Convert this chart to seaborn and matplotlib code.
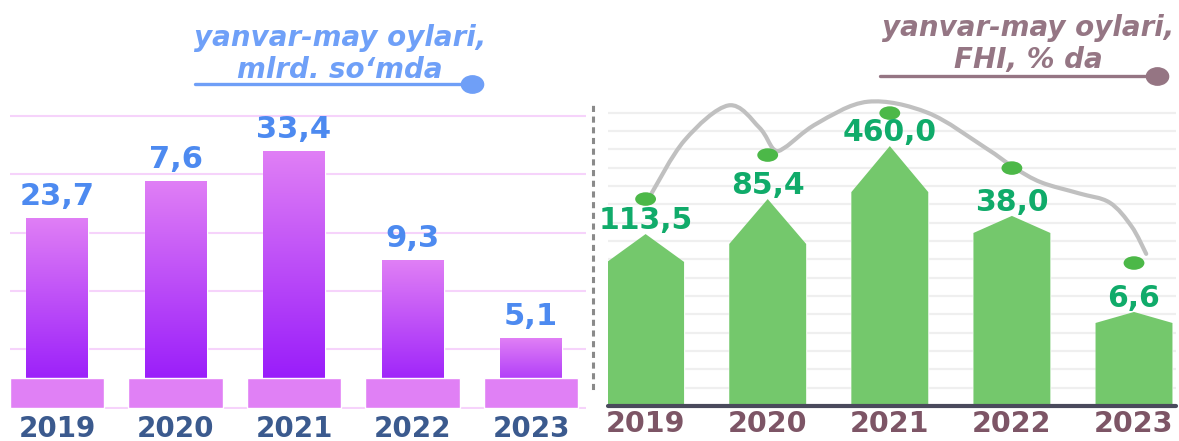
import numpy as np
import pandas as pd
import seaborn as sns
import matplotlib.pyplot as plt
from matplotlib.colors import LinearSegmentedColormap
from matplotlib.path import Path
from matplotlib.patches import PathPatch
from matplotlib.lines import Line2D
from matplotlib.markers import MarkerStyle
from matplotlib.transforms import Affine2D

years = ['2019', '2020', '2021', '2022', '2023']

# chap panel (mlrd. so'm) - bar heights as drawn, in grid units
left_labels = ['23,7', '7,6', '33,4', '9,3', '5,1']
left_bar_h = [3.26, 3.89, 4.40, 2.53, 1.19]

# o'ng panel (FHI, %) - house shaped bars + dots on the grey curve
right_labels = ['113,5', '85,4', '460,0', '38,0', '6,6']
right_body_h = [7.86, 8.84, 11.67, 9.44, 4.53]
right_peak_h = [9.38, 11.29, 14.18, 10.37, 5.13]
right_dot_h = [11.29, 13.69, 15.98, 12.98, 7.80]

# grey curve (x in category units)
curve_x = [0.04, 0.32, 0.68, 0.93, 1.05, 1.14, 1.40, 1.82, 2.31, 2.78, 3.02, 3.24, 3.55, 3.80, 3.98, 4.10]
curve_y = [11.5, 14.5, 16.4, 15.2, 14.0, 14.1, 15.4, 16.6, 16.0, 14.1, 13.0, 12.2, 11.6, 11.1, 9.8, 8.3]

W, H = 1179, 441


def frac(x0, y_top, x1, y_bot):
    # pixel box -> figure rect
    return [x0 / W, 1 - y_bot / H, (x1 - x0) / W, (y_bot - y_top) / H]


def smooth_path(xs, ys):
    pts = np.column_stack([xs, ys])
    pts = np.vstack([pts[0], pts, pts[-1]])
    verts = [pts[1]]
    codes = [Path.MOVETO]
    for i in range(1, len(pts) - 2):
        c1 = pts[i] + (pts[i + 1] - pts[i - 1]) / 6
        c2 = pts[i + 1] - (pts[i + 2] - pts[i]) / 6
        verts += [c1, c2, pts[i + 1]]
        codes += [Path.CURVE4] * 3
    return Path(verts, codes)


sns.set_style('white')
fig = plt.figure(figsize=(W / 100, H / 100), dpi=100)

# ---------------- left panel ----------------
ax1 = fig.add_axes(frac(10, 100, 586, 409))
df_left = pd.DataFrame({'year': years, 'h': left_bar_h, 'base': [0.51] * 5})

sns.barplot(data=df_left, x='year', y='h', width=0.523, color='#9010fb',
            saturation=1, errorbar=None, ax=ax1)
purple = LinearSegmentedColormap.from_list('purp', ['#9010fb', '#e07ff5'])
grad = np.linspace(0, 1, 256).reshape(-1, 1)
for p in list(ax1.patches):
    x0, w, h = p.get_x(), p.get_width(), p.get_height()
    im = ax1.imshow(grad, extent=[x0, x0 + w, 0, h], origin='lower',
                    aspect='auto', cmap=purple, zorder=1.5)
    im.set_clip_path(p)

n_before = len(ax1.patches)
sns.barplot(data=df_left, x='year', y='base', width=0.8, color='#e080f5',
            saturation=1, errorbar=None, ax=ax1)
for p in ax1.patches[n_before:]:
    p.set_zorder(2)

for i, (h, lab) in enumerate(zip(left_bar_h, left_labels)):
    ax1.annotate(lab, (i, h), xytext=(0, 13), textcoords='offset pixels',
                 ha='center', va='baseline', fontsize=22, fontweight='bold',
                 color='#4d8af0')

ax1.set_xlim(-0.397, 4.464)
ax1.set_ylim(-0.02, 309 / 58.6)
ax1.set_yticks(range(6))
ax1.yaxis.grid(True, color='#f6d3fb', lw=1.5)
ax1.xaxis.grid(False)
ax1.set_axisbelow(True)
ax1.tick_params(axis='y', length=0, labelleft=False)
ax1.tick_params(axis='x', length=0, pad=4)
ax1.set_xticks(range(5))
ax1.set_xticklabels(years, fontsize=20, fontweight='bold', color='#3b5a8e')
ax1.set_xlabel('')
ax1.set_ylabel('')
for s in ax1.spines.values():
    s.set_visible(False)

# ---------------- right panel ----------------
ax2 = fig.add_axes(frac(608, 95, 1176, 406))
df_right = pd.DataFrame({'year': years, 'body': right_body_h,
                         'peak': right_peak_h, 'pos': np.arange(5),
                         'dot': right_dot_h})
sns.barplot(data=df_right, x='year', y='body', width=0.63, color='#74c86c',
            saturation=1, errorbar=None, ax=ax2)
for p, body, peak in zip(ax2.patches, right_body_h, right_peak_h):
    x0, w = p.get_x(), p.get_width()
    ax2.fill([x0, x0, x0 + w / 2, x0 + w, x0 + w], [0, body, peak, body, 0],
             color='#74c86c', lw=0, zorder=2)

ax2.add_patch(PathPatch(smooth_path(curve_x, curve_y), fill=False,
                        edgecolor='#c0c0c0', lw=3, capstyle='round', zorder=3))

oval = Path.unit_circle().transformed(Affine2D().scale(1, 0.65))
sns.scatterplot(data=df_right, x='pos', y='dot', marker=MarkerStyle(oval),
                s=225, color='#4cb848', edgecolor='none', zorder=4, ax=ax2,
                legend=False)

for i, (pk, lab) in enumerate(zip(right_peak_h, right_labels)):
    ax2.annotate(lab, (i, pk), xytext=(0, 5), textcoords='offset pixels',
                 ha='center', va='baseline', fontsize=21.5, fontweight='bold',
                 color='#10ab6a', zorder=5)

ax2.set_xlim(-0.308, 4.344)
ax2.set_ylim(0, 311 / 18.33)
ax2.set_yticks(range(1, 17))
ax2.yaxis.grid(True, color='#efefef', lw=1.6)
ax2.xaxis.grid(False)
ax2.set_axisbelow(True)
ax2.tick_params(axis='y', length=0, labelleft=False)
ax2.tick_params(axis='x', length=0, pad=3)
ax2.set_xticks(range(5))
ax2.set_xticklabels(years, fontsize=20.5, fontweight='bold', color='#7d5566')
ax2.set_xlabel('')
ax2.set_ylabel('')
ax2.spines['top'].set_visible(False)
ax2.spines['right'].set_visible(False)
ax2.spines['bottom'].set_color('#4a4a5c')
ax2.spines['bottom'].set_linewidth(3)
ax2.spines['bottom'].set_capstyle('round')
ax2.spines['left'].set_position(('outward', 10.5))
ax2.spines['left'].set_bounds(0.98, 16.6)
ax2.spines['left'].set_color('#8a8a8a')
ax2.spines['left'].set_linewidth(2.2)
ax2.spines['left'].set_linestyle((0, (1, 2.5)))

# ---------------- titles ----------------
fig.text(340 / W, 1 - 78 / H, 'yanvar-may oylari,\nmlrd. so‘mda', ha='center',
         va='baseline', fontsize=20, fontweight='bold', fontstyle='italic',
         color='#6fa0f8', linespacing=1.2)
fig.text(1028 / W, 1 - 68 / H, 'yanvar-may oylari,\nFHI, % da', ha='center',
         va='baseline', fontsize=20, fontweight='bold', fontstyle='italic',
         color='#957684', linespacing=1.2)

end_oval = Path.unit_circle().transformed(Affine2D().scale(1, 0.78))
for xa, xb, y, col in [(195, 472, 84, '#6f9ff7'), (880, 1157, 76, '#957583')]:
    fig.add_artist(Line2D([xa / W, xb / W], [1 - y / H, 1 - y / H],
                          transform=fig.transFigure, color=col, lw=2.4,
                          marker=MarkerStyle(end_oval), markevery=[1],
                          markersize=16, solid_capstyle='round'))

fig.savefig('out.png', dpi=100)
